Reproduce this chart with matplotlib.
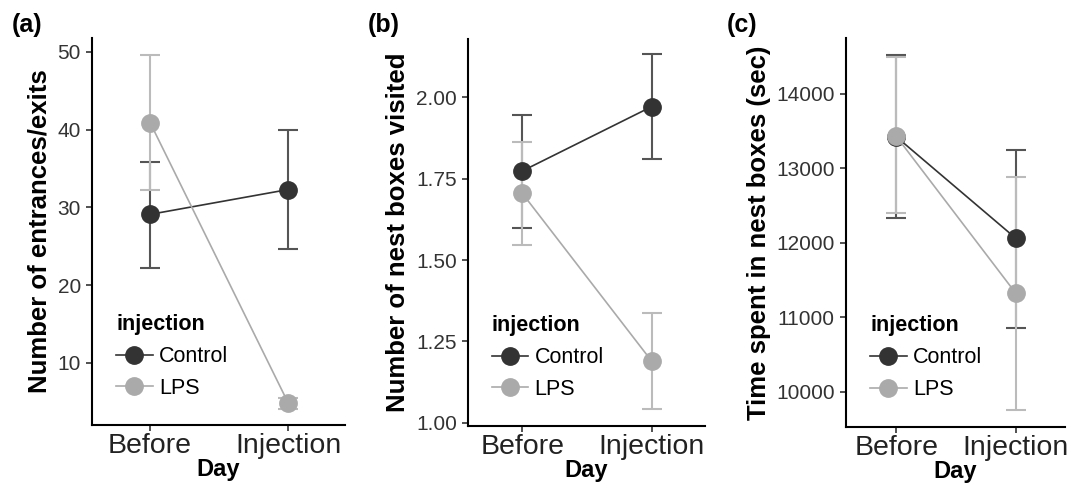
import numpy as np
import matplotlib
matplotlib.use("Agg")
import matplotlib.pyplot as plt

plt.rcParams['font.family'] = ['Liberation Sans', 'DejaVu Sans']

days = ["Before", "Injection"]
groups = ["Control", "LPS"]

# panel (a): entrances/exits
a_mean = {"Control": [29.1, 32.3], "LPS": [40.9, 4.8]}
a_low = {"Control": [22.2, 24.6], "LPS": [32.2, 4.1]}
a_high = {"Control": [35.9, 40.0], "LPS": [49.6, 5.5]}

# panel (b): nest boxes visited
b_mean = {"Control": [1.774, 1.972], "LPS": [1.705, 1.189]}
b_low = {"Control": [1.600, 1.812], "LPS": [1.547, 1.041]}
b_high = {"Control": [1.946, 2.133], "LPS": [1.863, 1.338]}

# panel (c): time in nest boxes
c_mean = {"Control": [13426, 12060], "LPS": [13432, 11321]}
c_low = {"Control": [12329, 10851], "LPS": [12396, 9752]}
c_high = {"Control": [14524, 13247], "LPS": [14493, 12889]}

colors = {"Control": "#333333", "LPS": "#aaaaaa"}
err_colors = {"Control": "#555555", "LPS": "#bbbbbb"}

panels = [
    ("(a)", "Number of entrances/exits", a_mean, a_low, a_high, (2.0, 51.8), [10, 20, 30, 40, 50], "{:.0f}"),
    ("(b)", "Number of nest boxes visited", b_mean, b_low, b_high, (0.99, 2.18), [1.00, 1.25, 1.50, 1.75, 2.00], "{:.2f}"),
    ("(c)", "Time spent in nest boxes (sec)", c_mean, c_low, c_high, (9526, 14753), [10000, 11000, 12000, 13000, 14000], "{:.0f}"),
]
rects = [
    [0.0853, 0.136, 0.2345, 0.787],
    [0.4337, 0.134, 0.2196, 0.787],
    [0.7840, 0.132, 0.2030, 0.791],
]
label_x = [12, 368, 727]
legend_x = [0.095, 0.10, 0.11]

fig = plt.figure(figsize=(10.79, 4.92), dpi=100)
x = np.arange(len(days))

for (lab, ylab, mean, low, high, ylim, yticks, fmt), rect, lx, gx in zip(panels, rects, label_x, legend_x):
    ax = fig.add_axes(rect)
    for g in groups:
        m = np.array(mean[g])
        err = [m - np.array(low[g]), np.array(high[g]) - m]
        ax.errorbar(x, m, yerr=err, fmt="none", ecolor=err_colors[g],
                    elinewidth=1.5, capsize=7, capthick=1.5, zorder=2)
        ax.plot(x, m, "-", color=colors[g], lw=1.2, marker="o", markersize=12.5,
                markeredgecolor=colors[g], label=g, zorder=3)
    ax.set_xlim(-0.42, 1.41)
    ax.set_ylim(*ylim)
    ax.set_xticks(x)
    ax.set_xticklabels(days, fontsize=20.5, color="#222222")
    ax.set_yticks(yticks)
    ax.set_yticklabels([fmt.format(v) for v in yticks], fontsize=15, color="#333333")
    ax.set_xlabel("Day", fontsize=17, fontweight="bold", labelpad=-1)
    ax.set_ylabel(ylab, fontsize=18.5, fontweight="bold", labelpad=4)
    for s in ["top", "right"]:
        ax.spines[s].set_visible(False)
    for s in ["left", "bottom"]:
        ax.spines[s].set_linewidth(1.5)
    ax.tick_params(direction="out", length=4, width=1.2, color="#333333", pad=2)
    ax.tick_params(axis="y", pad=4)
    leg = ax.legend(title="injection", loc="upper left", bbox_to_anchor=(gx, 0.287),
                    frameon=False, fontsize=15.5, title_fontproperties={"weight": "bold", "size": 15.5},
                    handlelength=1.7, handletextpad=0.3, labelspacing=0.5, borderaxespad=0,
                    borderpad=0)
    leg._legend_box.align = "left"
    leg._legend_box.sep = 8
    fig.text(lx / 1079, 1 - 25 / 492, lab, fontsize=18, fontweight="bold", va="center", ha="left")

fig.savefig("out.png", dpi=100)
